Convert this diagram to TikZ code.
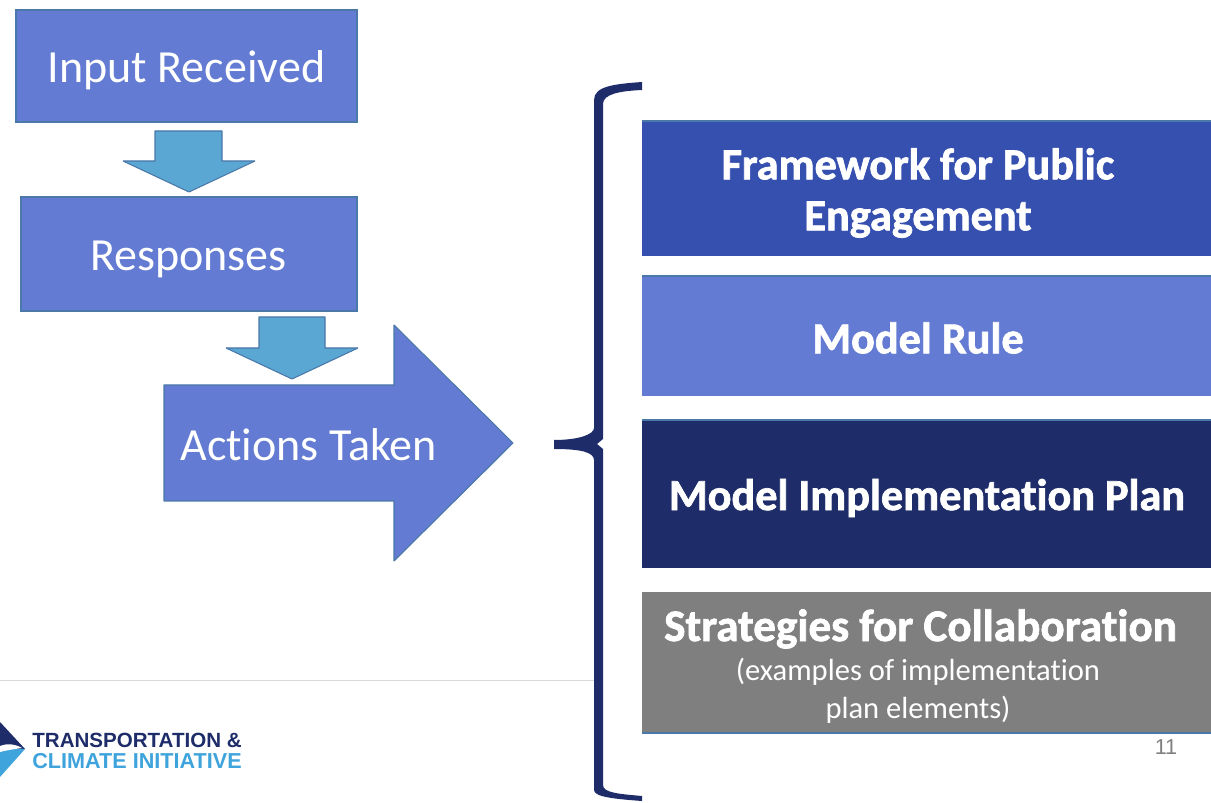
\documentclass[tikz,border=0pt]{standalone}
\usepackage{fontspec}
\setmainfont[Ligatures=NoCommon]{Carlito}
\newfontfamily\headfont[Ligatures=NoCommon,FakeBold=1.6]{Carlito Bold}
\newfontfamily\logofont{Liberation Sans}
\definecolor{boxblue}{HTML}{637BD2}
\definecolor{boxedge}{HTML}{4A78A8}
\definecolor{arrowblue}{HTML}{5BA7D3}
\definecolor{royal}{HTML}{3650B0}
\definecolor{navy}{HTML}{1E2D69}
\definecolor{slate}{HTML}{7F7F7F}
\definecolor{logosky}{HTML}{3FA4DC}
\tikzset{
	flowbox/.style={draw=boxedge, fill=boxblue, line width=0.8pt, text=white, font=\fontsize{26.5}{26.5}\selectfont, inner sep=0pt},
	blockarrow/.style={draw=boxedge, fill=arrowblue, line width=0.6pt, line join=bevel},
	bigarrow/.style={draw=boxedge, fill=boxblue, line width=0.6pt, line join=bevel},
	planbox/.style={draw=none, anchor=north west, minimum width=569*0.02cm, text=white, align=center, inner sep=0pt},
	planhead/.style={font=\headfont\fontsize{25.2}{29}\selectfont},
	planedge/.style={draw=boxedge, line width=1pt}
}
\begin{document}
\begin{tikzpicture}[x=0.02cm, y=-0.02cm]
	\useasboundingbox (0,0) rectangle (1211,803);
	\fill[white] (0,0) rectangle (1211,803);

	\node[flowbox, minimum width=341*0.02cm, minimum height=112*0.02cm] (input) at (186.5,66) {};
	\node[flowbox, minimum width=336*0.02cm, minimum height=114*0.02cm] (responses) at (189,254) {};
	\node[text=white, font=\fontsize{26.2}{26.2}\selectfont, inner sep=0pt] (inputtext) at (186.5,70) {Input Received};
	\node[text=white, font=\fontsize{26.2}{26.2}\selectfont, inner sep=0pt] (responsestext) at (188.5,259) {Responses};

	\draw[blockarrow] (155,131) -- (222,131) -- (222,161) -- (255,161) -- (189,192) -- (123,161) -- (155,161) -- cycle;
	\draw[bigarrow] (164,385) -- (394,385) -- (394,325) -- (513,443) -- (394,561) -- (394,501) -- (164,501) -- cycle;
	\draw[blockarrow] (259,317) -- (325,317) -- (325,348) -- (358,348) -- (292,379) -- (226,348) -- (259,348) -- cycle;
	\node[text=white, font=\fontsize{26.2}{26.2}\selectfont, anchor=west, inner sep=0pt] (actions) at (180,445) {Actions Taken};

	% brace
	\fill[navy] (642,82) .. controls (615,84) and (594,86) .. (594,100) -- (594,428)
		.. controls (594,434) and (580,440) .. (554,440) -- (554,449)
		.. controls (580,449) and (594,452) .. (594,460) -- (594,790)
		.. controls (594,797) and (615,799) .. (642,801) -- (642,796)
		.. controls (620,794) and (603,793) .. (603,785) -- (603,449) -- (597,444) -- (603,439) -- (603,104)
		.. controls (603,94) and (620,91) .. (642,90) -- cycle;

	\node[planbox, fill=royal, minimum height=135*0.02cm] (framework) at (642,121) {};
	\node[planhead, text=white, align=center] (frameworktext) at (918,193) {Framework for Public\\Engagement};
	\node[planbox, fill=boxblue, minimum height=120*0.02cm] (modelrule) at (642,276) {};
	\node[planhead, text=white] (modelruletext) at (918,338) {Model Rule};
	\node[planbox, fill=navy, minimum height=148*0.02cm] (implementation) at (642,420) {};
	\node[planhead, text=white] (implementationtext) at (927,498) {Model Implementation Plan};
	\node[planbox, fill=slate, minimum height=141*0.02cm] (strategies) at (642,592) {};
	\node[planhead, font=\headfont\fontsize{25.7}{29}\selectfont, text=white] (strategiestext) at (920.5,629) {Strategies for Collaboration};
	\node[text=white, align=center, font=\fontsize{17.4}{21.6}\selectfont] (examples) at (918,691) {(examples of implementation\\plan elements)};

	\draw[planedge] (642,121) -- (1211,121);
	\draw[planedge] (642,276) -- (1211,276);
	\draw[planedge] (642,420) -- (1211,420);
	\draw[planedge] (642,733) -- (1211,733);

	% footer
	\draw[black!15, line width=1pt] (0,680.5) -- (594,680.5);
	\node[text=black!50, font=\logofont\fontsize{12.3}{12.3}\selectfont] (pagenum) at (1166,747) {11};
	\fill[navy] (0,722) -- (25,749) -- (0,749) -- cycle;
	\fill[logosky] (0,749) -- (25,749) -- (0,777) -- cycle;
	\fill[white] (0,746) .. controls (8,743) and (15,744) .. (22,748) .. controls (15,749) and (8,750) .. (0,752) -- cycle;
	\node[text=navy, anchor=west, inner sep=0pt, font=\logofont\bfseries\fontsize{11.7}{11.7}\selectfont] (logotop) at (32,740.5) {TRANSPORTATION \&};
	\node[text=logosky, anchor=west, inner sep=0pt, font=\logofont\bfseries\fontsize{12.3}{12.3}\selectfont] (logobottom) at (32,761) {CLIMATE INITIATIVE};
\end{tikzpicture}
\end{document}
